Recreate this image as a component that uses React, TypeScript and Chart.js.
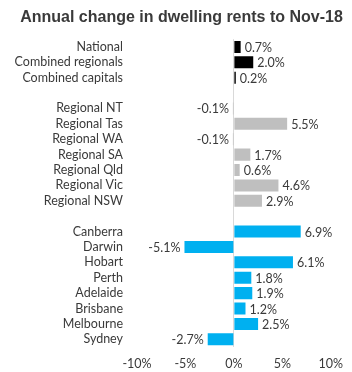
import React, { useEffect, useRef } from "react";
import { Chart, registerables } from "chart.js";

Chart.register(...registerables);

const TITLE = "Annual change in dwelling rents to Nov-18";

const categories = [
  "National",
  "Combined regionals",
  "Combined capitals",
  "",
  "Regional NT",
  "Regional Tas",
  "Regional WA",
  "Regional SA",
  "Regional Qld",
  "Regional Vic",
  "Regional NSW",
  " ",
  "Canberra",
  "Darwin",
  "Hobart",
  "Perth",
  "Adelaide",
  "Brisbane",
  "Melbourne",
  "Sydney",
];

const values: (number | null)[] = [
  0.7, 2.0, 0.2,
  null,
  -0.1, 5.5, -0.1, 1.7, 0.6, 4.6, 2.9,
  null,
  6.9, -5.1, 6.1, 1.8, 1.9, 1.2, 2.5, -2.7,
];

const groups = [
  "total", "total", "total",
  "none",
  "regional", "regional", "regional", "regional", "regional", "regional", "regional",
  "none",
  "capital", "capital", "capital", "capital", "capital", "capital", "capital", "capital",
];

const groupColors: Record<string, string> = {
  total: "#000000",
  regional: "#bfbfbf",
  capital: "#00b0f0",
  none: "transparent",
};

const xTickMin = -10;
const xTickMax = 10;
const xTickStep = 5;

const TEXT_COLOR = "#3a3a3a";
const FONT_FAMILY = "Lato, 'Liberation Sans', sans-serif";
const FONT_SIZE = 12.5;

const valueLabelPlugin = {
  id: "valueLabels",
  afterDatasetsDraw(chart: any) {
    const ctx = chart.ctx;
    const meta = chart.getDatasetMeta(0);
    ctx.save();
    ctx.font = `${FONT_SIZE}px ${FONT_FAMILY}`;
    ctx.fillStyle = TEXT_COLOR;
    ctx.textBaseline = "middle";
    meta.data.forEach((bar: any, i: number) => {
      const v = values[i];
      if (v === null || v === undefined) return;
      const text = `${v.toFixed(1)}%`;
      if (v >= 0) {
        ctx.textAlign = "left";
        ctx.fillText(text, bar.x + 4, bar.y + 1);
      } else {
        ctx.textAlign = "right";
        ctx.fillText(text, bar.x - 4, bar.y + 1);
      }
    });
    ctx.restore();
  },
};

export default function App() {
  const canvasRef = useRef<HTMLCanvasElement | null>(null);

  useEffect(() => {
    document.body.style.margin = "0";
    const canvas = canvasRef.current;
    if (!canvas) return;
    const chart = new Chart(canvas, {
      type: "bar",
      data: {
        labels: categories,
        datasets: [
          {
            data: values as any,
            backgroundColor: groups.map((g) => groupColors[g]),
            borderWidth: 0,
            barPercentage: 0.85,
            categoryPercentage: 0.92,
          },
        ],
      },
      options: {
        indexAxis: "y",
        animation: false,
        responsive: false,
        maintainAspectRatio: false,
        layout: { padding: { left: 12, right: 1, top: 0, bottom: 0 } },
        plugins: {
          legend: { display: false },
          tooltip: { enabled: false },
          title: {
            display: true,
            text: TITLE,
            color: TEXT_COLOR,
            font: { family: "'Liberation Sans', Arial, sans-serif", size: 16, weight: "bold" },
            padding: { top: 8, bottom: 12 },
          },
        },
        scales: {
          x: {
            min: xTickMin,
            max: xTickMax,
            ticks: {
              stepSize: xTickStep,
              color: TEXT_COLOR,
              font: { family: FONT_FAMILY, size: FONT_SIZE },
              padding: 9,
              callback: (v: any) => `${v}%`,
            },
            grid: {
              drawTicks: false,
              color: (c: any) => (c.tick && c.tick.value === 0 ? "#d9d9d9" : "transparent"),
            },
            border: { display: false },
            afterFit: (scale: any) => {
              scale.height = 25;
            },
          },
          y: {
            ticks: {
              color: TEXT_COLOR,
              font: { family: FONT_FAMILY, size: FONT_SIZE },
              padding: 14,
              autoSkip: false,
            },
            grid: { display: false, drawTicks: false },
            border: { display: false },
            afterFit: (scale: any) => {
              scale.width = 125;
            },
          },
        },
      },
      plugins: [valueLabelPlugin],
    });
    return () => chart.destroy();
  }, []);

  return (
    <div style={{ width: 352, height: 372 }}>
      <canvas ref={canvasRef} width={352} height={372} style={{ display: "block" }} />
    </div>
  );
}
